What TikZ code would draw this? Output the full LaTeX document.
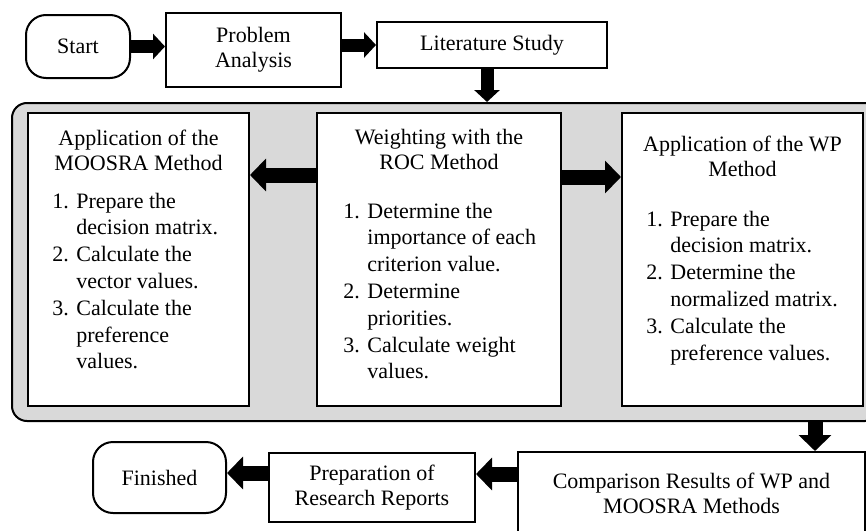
\documentclass[tikz,border=0pt]{standalone}
\usepackage{fontspec}
\setmainfont{Liberation Serif}
\usetikzlibrary{arrows.meta}
\definecolor{grpCol}{HTML}{D9D9D9}
\tikzset{
  procbox/.style={draw, line width=1pt, fill=white, align=center, inner sep=0pt,
        font=\fontsize{11}{12.5}\selectfont},
  term/.style={procbox, rounded corners=10pt},
  groupbox/.style={draw, line width=1pt, fill=grpCol, rounded corners=7.5pt, inner sep=0pt},
  ttl/.style={align=center, inner sep=0pt, font=\fontsize{11}{12.5}\selectfont},
  steps/.style={anchor=base west, inner sep=0pt, font=\fontsize{11}{13.4}\selectfont},
  blk/.style={-{Triangle[width=16pt,length=8pt]}, line width=7.5pt},
  blks/.style={-{Triangle[width=12.5pt,length=6pt]}, line width=6.5pt},
}
\begin{document}
\begin{tikzpicture}[x=0.5pt,y=-0.5pt]
  \path[use as bounding box] (0,0) rectangle (866,530);
  \clip (0,0) rectangle (866,530);
  % top row
  \node[term, minimum width=52pt, minimum height=31.5pt] (start) at (78,46.5) {Start};
  \node[procbox, minimum width=87.5pt, minimum height=37pt] (prob) at (253.5,50) {Problem\\Analysis};
  \node[procbox, minimum width=115pt, minimum height=23pt] (lit) at (492,45) {Literature Study};
  % grey block with the three methods
  \node[groupbox, minimum width=434pt, minimum height=159pt] (grp) at (446,262) {};
  \node[procbox, minimum width=110.5pt, minimum height=146.5pt] (moosra) at (138.5,259.5) {};
  \node[procbox, minimum width=122pt, minimum height=146.5pt] (roc) at (439,259.5) {};
  \node[procbox, minimum width=120.5pt, minimum height=146.5pt] (wp) at (742.5,259.5) {};
  \node[ttl] (moosraT) at (138.5,150) {Application of the\\MOOSRA Method};
  \node[ttl] (rocT) at (439,149.5) {Weighting with the\\ROC Method};
  \node[ttl] (wpT) at (742.5,156) {Application of the WP\\Method};
  \node[steps] (moosraL) at (52,208) {\begin{tabular}[t]{@{}p{12pt}@{}l@{}}
    1. & Prepare the\\ & decision matrix.\\
    2. & Calculate the\\ & vector values.\\
    3. & Calculate the\\ & preference\\ & values.
  \end{tabular}};
  \node[steps] (rocL) at (343,218) {\begin{tabular}[t]{@{}p{12pt}@{}l@{}}
    1. & Determine the\\ & importance of each\\ & criterion value.\\
    2. & Determine\\ & priorities.\\
    3. & Calculate weight\\ & values.
  \end{tabular}};
  \node[steps] (wpL) at (646,226) {\begin{tabular}[t]{@{}p{12pt}@{}l@{}}
    1. & Prepare the\\ & decision matrix.\\
    2. & Determine the\\ & normalized matrix.\\
    3. & Calculate the\\ & preference values.
  \end{tabular}};
  % bottom row
  \node[procbox, minimum width=173.5pt, minimum height=41.5pt] (cmp) at (691.5,493.5) {Comparison Results of WP and\\MOOSRA Methods};
  \node[procbox, minimum width=103pt, minimum height=34.5pt] (prep) at (372,487.5) {Preparation of\\Research Reports};
  \node[term, minimum width=66.5pt, minimum height=35.5pt] (fin) at (159.5,477.5) {Finished};
  \coordinate (dn) at (815,421);
  % arrows
  \draw[blks] (start.east) -- (start.east -| prob.west);
  \draw[blks] (prob.east |- lit.west) -- (lit.west);
  \draw[blks] ([xshift=-2.5pt]lit.south) -- ([xshift=-2.5pt]lit.south |- grp.north);
  \draw[blk] ([yshift=42.25pt]roc.west) -- ([yshift=42.25pt]roc.west -| moosra.east);
  \draw[blk] ([yshift=41.25pt]roc.east) -- ([yshift=41.25pt]roc.east -| wp.west);
  \draw[blk] (dn) -- (dn |- cmp.north);
  \draw[blk] ([yshift=9.75pt]cmp.west) -- ([yshift=9.75pt]cmp.west -| prep.east);
  \draw[blk] ([yshift=7.25pt]prep.west) -- ([yshift=7.25pt]prep.west -| fin.east);
\end{tikzpicture}
\end{document}
